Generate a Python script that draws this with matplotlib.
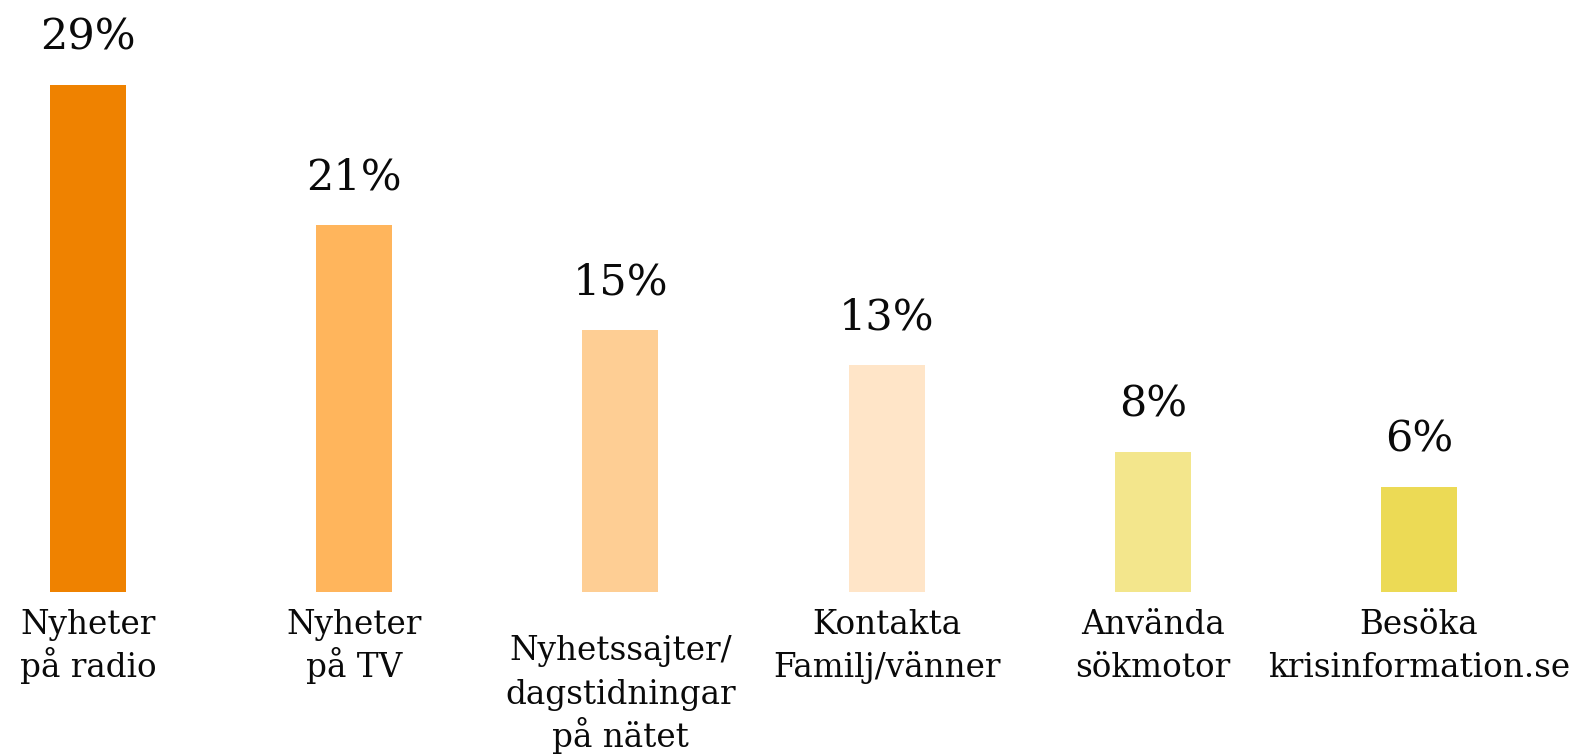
import matplotlib
matplotlib.use("Agg")
import matplotlib.pyplot as plt
from matplotlib.transforms import offset_copy

categories = [
    "Nyheter\npå radio",
    "Nyheter\npå TV",
    "Nyhetssajter/\ndagstidningar\npå nätet",
    "Kontakta\nFamilj/vänner",
    "Använda\nsökmotor",
    "Besöka\nkrisinformation.se",
]
values = [29, 21, 15, 13, 8, 6]
value_labels = ["29%", "21%", "15%", "13%", "8%", "6%"]
colors = ["#EF8200", "#FFB55C", "#FECE94", "#FFE5C8", "#F3E68C", "#ECDA55"]

W, H = 1587, 755
fig = plt.figure(figsize=(W / 100, H / 100), dpi=100)
bottom_px = 163
ax = fig.add_axes([0, bottom_px / H, 1, 1 - bottom_px / H])
ax.set_xlim(-88 / 266.2, (W - 88) / 266.2)
ax.set_ylim(0, (H - bottom_px) / (507 / 29))
ax.axis("off")

x = list(range(len(categories)))
ax.bar(x, values, width=0.285, color=colors)

font = "DejaVu Serif"
tcol = "#0a0a0a"
for xi, v, lab in zip(x, values, value_labels):
    tr = offset_copy(ax.transData, fig=fig, x=0, y=25.5, units="points")
    ax.text(xi, v, lab, transform=tr, ha="center", va="baseline",
            fontsize=31, family=font, color=tcol)

line_step = 31.3  # points
for xi, cat in zip(x, categories):
    lines = cat.split("\n")
    first = 30.2 if len(lines) <= 2 else 49.0
    for j, line in enumerate(lines):
        tr = offset_copy(ax.get_xaxis_transform(), fig=fig, x=0,
                         y=-(first + j * line_step), units="points")
        ax.text(xi, 0, line, transform=tr, ha="center", va="baseline",
                fontsize=23.5, family=font, color=tcol, clip_on=False)

fig.savefig("out.png", dpi=100)
